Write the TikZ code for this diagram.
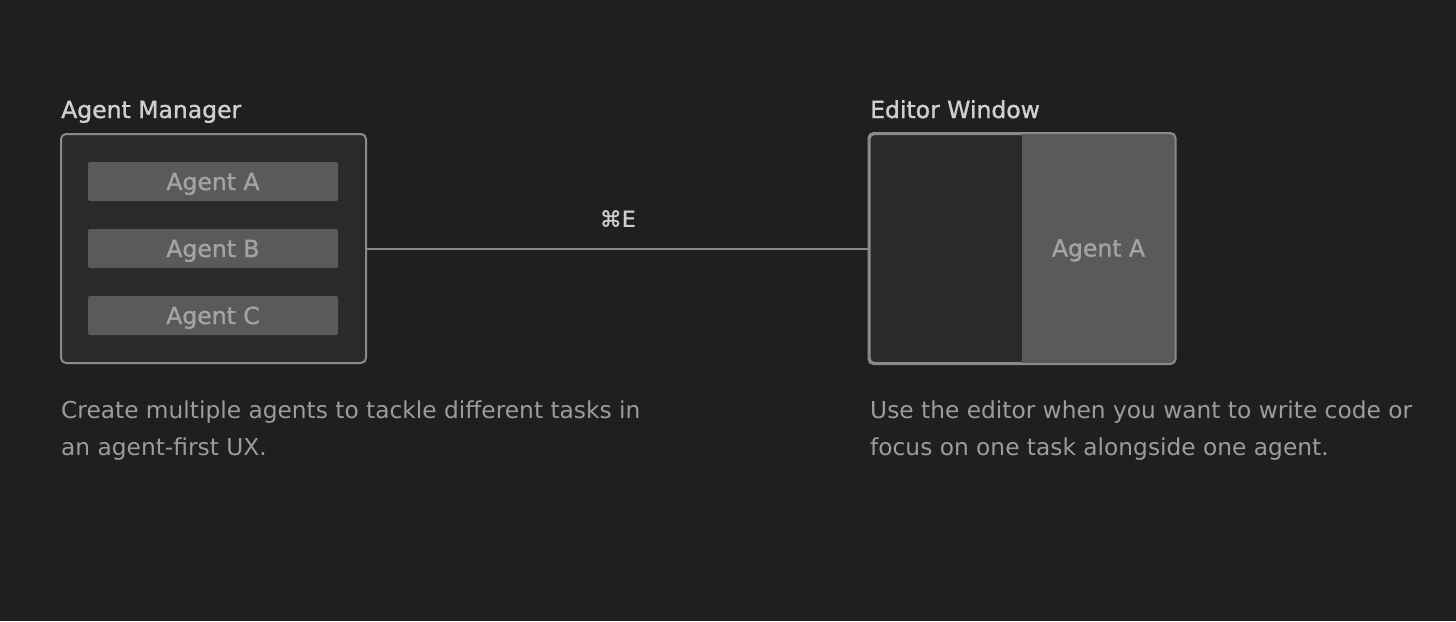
\documentclass[tikz,border=0pt]{standalone}
\usepackage{fontspec}
\setmainfont{DejaVu Sans}
\newfontfamily\medfont[FakeBold=1.2]{DejaVu Sans}
\usetikzlibrary{calc}
\definecolor{bgdark}{HTML}{1F1F1F}
\definecolor{panelfill}{HTML}{2A2A2A}
\definecolor{panelline}{HTML}{8A8A8A}
\definecolor{barfill}{HTML}{5A5A5A}
\definecolor{bartext}{HTML}{A3A3A3}
\definecolor{headtext}{HTML}{CFCFCF}
\definecolor{desctext}{HTML}{9C9C9C}
\tikzset{
    panel/.style={draw=panelline, line width=2pt, fill=panelfill, rounded corners=5pt, minimum width=305pt, minimum height=229pt, inner sep=0pt},
    agentbar/.style={fill=barfill, text=bartext, rounded corners=2pt, minimum width=250pt, minimum height=39pt, inner sep=0pt, font=\medfont\fontsize{23.5}{28}\selectfont, text height=17pt, text depth=0pt},
    heading/.style={text=headtext, anchor=base west, inner sep=0pt, font=\medfont\fontsize{23.5}{28}\selectfont},
    desc/.style={text=desctext, anchor=north west, inner sep=0pt, align=left, font=\fontsize{23.3}{37}\selectfont}
}
\begin{document}
\begin{tikzpicture}[x=1pt,y=-1pt]
\fill[bgdark] (0,0) rectangle (1456,621);
\useasboundingbox (0,0) rectangle (1456,621);
\node[heading] (mgrhead) at (61,118) {Agent Manager};
\node[heading] (edwhead) at (870,118) {Editor Window};
\node[panel] (mgr) at (213.5,248.5) {};
\node[panel] (edw) at (1022,248.5) {};
\foreach \y/\lbl/\p in {181.5/A/barA, 248.5/B/barB, 315.5/C/barC}{
    \node[agentbar] (\p) at (213,\y) {Agent \lbl};
}
% editor split: dark left half, agent on the right
\begin{scope}
\clip[rounded corners=5pt] (edw.north west) rectangle (edw.south east);
\fill[barfill] (1022,134) rectangle (edw.south east);
\end{scope}
\draw[panelline, line width=2pt, rounded corners=5pt] (edw.north west) rectangle (edw.south east);
\node[text=bartext, font=\medfont\fontsize{23.5}{28}\selectfont, text height=17pt, text depth=0pt] (edwA) at (1098.5,248) {Agent A};
\draw[panelline, line width=2pt] (mgr.east) -- (edw.west);
\node[text=headtext, font=\medfont\fontsize{22}{26}\selectfont] (cmdE) at ($(mgr.east)!0.5!(edw.west)+(0,-30)$) {⌘E};
\node[desc] (mgrdesc) at (61,401) {Create multiple agents to tackle different tasks in\\an agent-first UX.};
\node[desc] (edwdesc) at (870,401) {Use the editor when you want to write code or\\focus on one task alongside one agent.};
\end{tikzpicture}
\end{document}
